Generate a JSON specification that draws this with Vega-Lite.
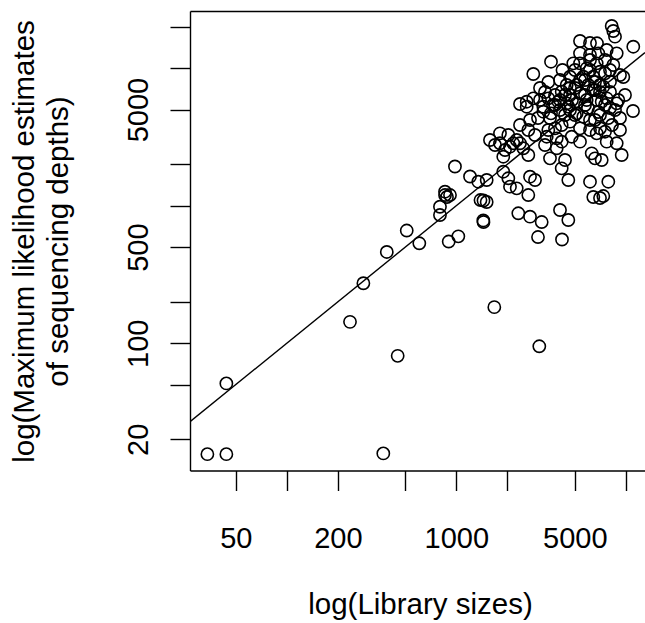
{
  "$schema": "https://vega.github.io/schema/vega-lite/v6.json",
  "width": 455,
  "height": 459.5,
  "autosize": {"type": "none"},
  "padding": {"left": 190, "top": 11, "right": 0, "bottom": 152.5},
  "background": "white",
  "config": {
    "view": {"stroke": null},
    "font": "Liberation Sans",
    "axis": {
      "domainColor": "black",
      "domainWidth": 1.4,
      "tickColor": "black",
      "tickWidth": 1.4,
      "grid": false,
      "labelFont": "Liberation Sans",
      "titleFont": "Liberation Sans",
      "labelColor": "black",
      "titleColor": "black",
      "titleFontWeight": "normal"
    }
  },
  "layer": [
    {
      "data": {"values": [{"library_size": 26.85, "depth": 26.85}, {"library_size": 12980, "depth": 12980}]},
      "mark": {"type": "line", "color": "black", "strokeWidth": 1.4, "clip": true},
      "encoding": {
        "x": {
          "field": "library_size", "type": "quantitative",
          "scale": {"type": "log", "domain": [26.85, 12980], "nice": false, "zero": false},
          "axis": {"orient": "top", "ticks": false, "labels": false, "title": null, "domain": true}
        },
        "y": {
          "field": "depth", "type": "quantitative",
          "scale": {"type": "log", "domain": [11.87, 26062], "nice": false, "zero": false},
          "axis": {
            "orient": "left",
            "values": [20, 50, 100, 200, 500, 1000, 2000, 5000, 10000, 20000],
            "labelExpr": "(datum.value == 20 || datum.value == 100 || datum.value == 500 || datum.value == 5000) ? '' + datum.value : ''",
            "tickSize": 20,
            "labelAngle": -90,
            "labelAlign": "center",
            "labelBaseline": "alphabetic",
            "labelPadding": 23,
            "labelFontSize": 29,
            "labelOverlap": false,
            "title": ["log(Maximum likelihood estimates", "of sequencing depths)"],
            "titleFontSize": 29.5,
            "titleLineHeight": 34,
            "titleAngle": -90,
            "titleAlign": "center",
            "titleBaseline": "alphabetic",
            "titleX": -157,
            "titleY": 230
          }
        }
      }
    },
    {
      "data": {"values": [
        {"library_size": 34, "depth": 15.6}, {"library_size": 44, "depth": 15.6}, {"library_size": 44, "depth": 51},
        {"library_size": 371, "depth": 15.8}, {"library_size": 451, "depth": 81}, {"library_size": 3088, "depth": 95},
        {"library_size": 236, "depth": 143}, {"library_size": 283, "depth": 273}, {"library_size": 389, "depth": 461},
        {"library_size": 510, "depth": 660}, {"library_size": 605, "depth": 533}, {"library_size": 902, "depth": 549},
        {"library_size": 1028, "depth": 599}, {"library_size": 1676, "depth": 183}, {"library_size": 3034, "depth": 592},
        {"library_size": 4204, "depth": 568}, {"library_size": 801, "depth": 856}, {"library_size": 801, "depth": 983},
        {"library_size": 858, "depth": 1196}, {"library_size": 881, "depth": 1157}, {"library_size": 918, "depth": 1196},
        {"library_size": 858, "depth": 1264}, {"library_size": 982, "depth": 1928}, {"library_size": 1205, "depth": 1631},
        {"library_size": 1348, "depth": 1495}, {"library_size": 1389, "depth": 1100}, {"library_size": 1447, "depth": 1091},
        {"library_size": 1511, "depth": 1064}, {"library_size": 1443, "depth": 781}, {"library_size": 1447, "depth": 761},
        {"library_size": 1580, "depth": 3005}, {"library_size": 1511, "depth": 1538}, {"library_size": 1810, "depth": 3362},
        {"library_size": 1810, "depth": 2844}, {"library_size": 1938, "depth": 2542}, {"library_size": 1893, "depth": 2272},
        {"library_size": 2074, "depth": 2687}, {"library_size": 2169, "depth": 2844}, {"library_size": 2272, "depth": 3005},
        {"library_size": 2376, "depth": 2844}, {"library_size": 2485, "depth": 2616}, {"library_size": 2376, "depth": 3864},
        {"library_size": 2660, "depth": 3552}, {"library_size": 2660, "depth": 2338}, {"library_size": 1893, "depth": 1767},
        {"library_size": 2027, "depth": 1583}, {"library_size": 2074, "depth": 1375}, {"library_size": 2272, "depth": 1338},
        {"library_size": 2722, "depth": 1625}, {"library_size": 2913, "depth": 1538}, {"library_size": 2660, "depth": 1196},
        {"library_size": 2322, "depth": 881}, {"library_size": 2722, "depth": 832}, {"library_size": 3190, "depth": 761},
        {"library_size": 4091, "depth": 931}, {"library_size": 4580, "depth": 787}, {"library_size": 3415, "depth": 3176},
        {"library_size": 3912, "depth": 3092}, {"library_size": 4186, "depth": 2921}, {"library_size": 4795, "depth": 3176},
        {"library_size": 5368, "depth": 2921}, {"library_size": 3571, "depth": 2212}, {"library_size": 3912, "depth": 2616},
        {"library_size": 4379, "depth": 2150}, {"library_size": 4186, "depth": 1871}, {"library_size": 4580, "depth": 1538},
        {"library_size": 6149, "depth": 1495}, {"library_size": 7885, "depth": 1495}, {"library_size": 6432, "depth": 1157},
        {"library_size": 7367, "depth": 1176}, {"library_size": 7044, "depth": 1138}, {"library_size": 6292, "depth": 2405},
        {"library_size": 6581, "depth": 2212}, {"library_size": 7208, "depth": 2150}, {"library_size": 7714, "depth": 2921},
        {"library_size": 8837, "depth": 2844}, {"library_size": 9458, "depth": 2338}, {"library_size": 6735, "depth": 3362},
        {"library_size": 7044, "depth": 3655}, {"library_size": 7539, "depth": 3453}, {"library_size": 11030, "depth": 4883},
        {"library_size": 8837, "depth": 5555}, {"library_size": 7208, "depth": 5707}, {"library_size": 8257, "depth": 20275},
        {"library_size": 8439, "depth": 18646}, {"library_size": 8636, "depth": 16950}, {"library_size": 5368, "depth": 15772},
        {"library_size": 6149, "depth": 15253}, {"library_size": 6762, "depth": 15177}, {"library_size": 11070, "depth": 14334},
        {"library_size": 3620, "depth": 11150}, {"library_size": 2846, "depth": 9075}, {"library_size": 4232, "depth": 9703},
        {"library_size": 4686, "depth": 8674}, {"library_size": 5368, "depth": 10855}, {"library_size": 6149, "depth": 12474},
        {"library_size": 6884, "depth": 12834}, {"library_size": 7714, "depth": 13564}, {"library_size": 8837, "depth": 12834},
        {"library_size": 8439, "depth": 10550}, {"library_size": 9243, "depth": 8923}, {"library_size": 9667, "depth": 8630},
        {"library_size": 7539, "depth": 9182}, {"library_size": 6432, "depth": 8674}, {"library_size": 5615, "depth": 8674},
        {"library_size": 5132, "depth": 7547}, {"library_size": 4481, "depth": 7547}, {"library_size": 4186, "depth": 6748},
        {"library_size": 3823, "depth": 6386}, {"library_size": 4686, "depth": 6386}, {"library_size": 5368, "depth": 6570},
        {"library_size": 6432, "depth": 6943}, {"library_size": 7367, "depth": 7337}, {"library_size": 8069, "depth": 7977},
        {"library_size": 7714, "depth": 6041}, {"library_size": 6735, "depth": 5871}, {"library_size": 5879, "depth": 5871},
        {"library_size": 5132, "depth": 5555}, {"library_size": 4481, "depth": 5555}, {"library_size": 3998, "depth": 5707},
        {"library_size": 3490, "depth": 6041}, {"library_size": 3118, "depth": 5871}, {"library_size": 2602, "depth": 5707},
        {"library_size": 2376, "depth": 5490}, {"library_size": 2846, "depth": 6041}, {"library_size": 3261, "depth": 5248},
        {"library_size": 5879, "depth": 9984}, {"library_size": 6735, "depth": 10855}, {"library_size": 4901, "depth": 10855},
        {"library_size": 5368, "depth": 12834}, {"library_size": 7044, "depth": 9431}, {"library_size": 6009, "depth": 7547},
        {"library_size": 9032, "depth": 5871}, {"library_size": 3261, "depth": 4826}, {"library_size": 3620, "depth": 4699},
        {"library_size": 4091, "depth": 4966}, {"library_size": 4580, "depth": 5248}, {"library_size": 5132, "depth": 4699},
        {"library_size": 5615, "depth": 4440}, {"library_size": 6149, "depth": 4201}, {"library_size": 4686, "depth": 4083},
        {"library_size": 4186, "depth": 3864}, {"library_size": 3823, "depth": 3655}, {"library_size": 3571, "depth": 4344},
        {"library_size": 6884, "depth": 4803}, {"library_size": 7885, "depth": 4344}, {"library_size": 9243, "depth": 4344},
        {"library_size": 9892, "depth": 6386}, {"library_size": 3118, "depth": 7178}, {"library_size": 3490, "depth": 7936},
        {"library_size": 4091, "depth": 8208}, {"library_size": 5745, "depth": 6386}, {"library_size": 6581, "depth": 7936},
        {"library_size": 8069, "depth": 6714}, {"library_size": 8636, "depth": 4966}, {"library_size": 2722, "depth": 4201},
        {"library_size": 2913, "depth": 3268}, {"library_size": 3337, "depth": 2764}, {"library_size": 2602, "depth": 5248},
        {"library_size": 5368, "depth": 3655}, {"library_size": 6149, "depth": 3552}, {"library_size": 8291, "depth": 3864},
        {"library_size": 5015, "depth": 9703}, {"library_size": 1692, "depth": 2764}, {"library_size": 2027, "depth": 3268},
        {"library_size": 3720, "depth": 5400}, {"library_size": 4379, "depth": 6386}, {"library_size": 4815, "depth": 5871},
        {"library_size": 5984, "depth": 5135}, {"library_size": 7044, "depth": 4567}, {"library_size": 7539, "depth": 5400},
        {"library_size": 6581, "depth": 6943}, {"library_size": 5015, "depth": 7178}, {"library_size": 5745, "depth": 8208},
        {"library_size": 4686, "depth": 4966}, {"library_size": 7044, "depth": 6714}, {"library_size": 6149, "depth": 9703},
        {"library_size": 8069, "depth": 9703}, {"library_size": 4091, "depth": 5871},
        {"library_size": 5015, "depth": 4567}, {"library_size": 5745, "depth": 5400}, {"library_size": 6581, "depth": 4201},
        {"library_size": 4379, "depth": 4567}, {"library_size": 3823, "depth": 5400}, {"library_size": 3337, "depth": 6714},
        {"library_size": 7044, "depth": 7547}, {"library_size": 6149, "depth": 11470}, {"library_size": 7539, "depth": 11470},
        {"library_size": 4686, "depth": 7178}, {"library_size": 5368, "depth": 8208}, {"library_size": 8069, "depth": 5135},
        {"library_size": 9243, "depth": 3552}, {"library_size": 3490, "depth": 3552}, {"library_size": 3034, "depth": 4344}
      ]},
      "mark": {"type": "point", "shape": "circle", "filled": false, "color": "black", "strokeWidth": 1.6, "size": 150, "opacity": 1, "clip": true},
      "encoding": {
        "x": {
          "field": "library_size", "type": "quantitative",
          "scale": {"type": "log", "domain": [26.85, 12980], "nice": false, "zero": false},
          "axis": {
            "orient": "bottom",
            "values": [50, 100, 200, 500, 1000, 2000, 5000, 10000],
            "labelExpr": "(datum.value == 50 || datum.value == 200 || datum.value == 1000 || datum.value == 5000) ? '' + datum.value : ''",
            "tickSize": 20,
            "labelPadding": 34,
            "labelFontSize": 29,
            "labelBaseline": "top",
            "labelOverlap": false,
            "labelFlush": false,
            "title": "log(Library sizes)",
            "titleFontSize": 29.5,
            "titleBaseline": "alphabetic",
            "titleX": 230,
            "titleY": 142.5
          }
        },
        "y": {
          "field": "depth", "type": "quantitative",
          "scale": {"type": "log", "domain": [11.87, 26062], "nice": false, "zero": false}
        }
      }
    }
  ],
  "resolve": {"axis": {"x": "independent"}}
}
